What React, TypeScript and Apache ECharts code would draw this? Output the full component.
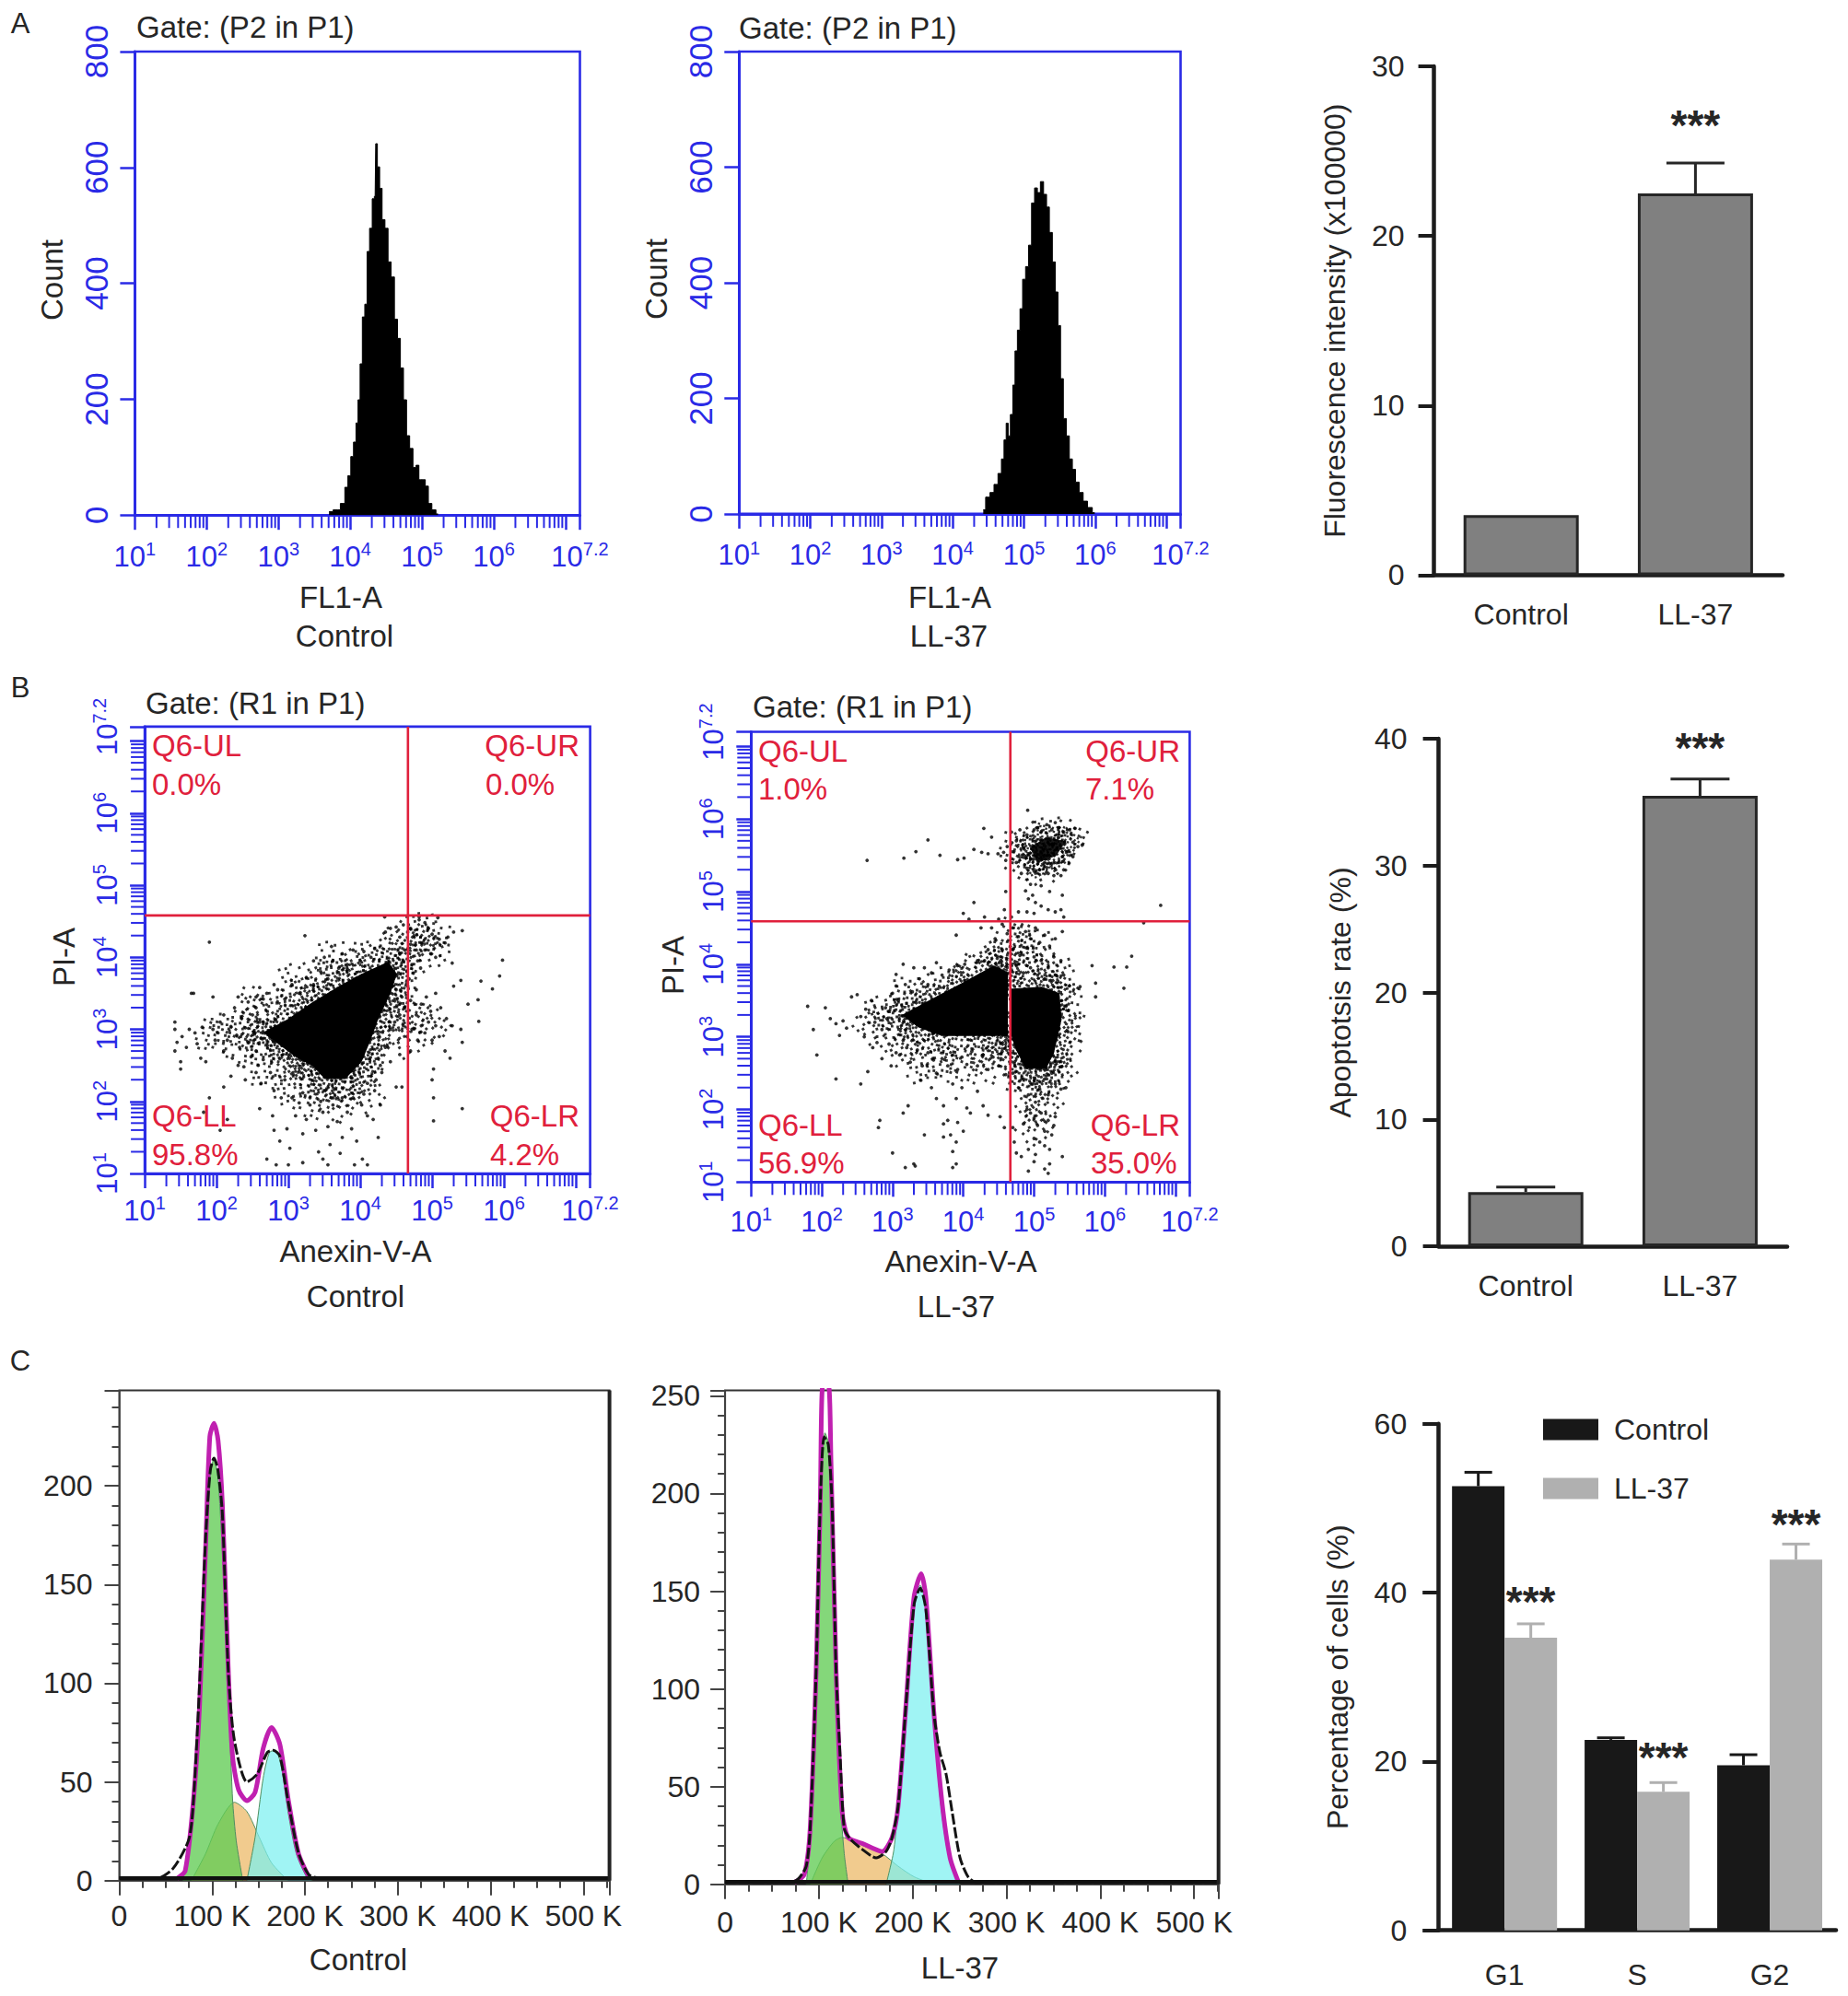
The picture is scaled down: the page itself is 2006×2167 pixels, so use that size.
import React, { useEffect, useRef } from "react";
import * as echarts from "echarts";

const FONT = "Liberation Sans";
const BLUE = "#2a2ae6";
const RED = "#e0203c";
const INK = "#262626";

/* ---------- Panel A: flow histograms (log10 of FL1-A, count) ---------- */
const histControl = [[3.705,6],[3.82,9],[3.905,20],[3.945,48],[3.99,68],[4.026,101],[4.066,126],[4.095,159],[4.123,199],[4.152,261],[4.186,342],[4.22,364],[4.25,455],[4.289,495],[4.324,546],[4.347,550],[4.364,641],[4.393,601],[4.427,564],[4.461,510],[4.507,495],[4.547,437],[4.593,411],[4.639,338],[4.679,305],[4.719,254],[4.765,199],[4.805,137],[4.851,115],[4.897,82],[4.937,86],[4.977,61],[5.023,61],[5.069,50],[5.109,20],[5.166,9],[5.223,2]];
const histLL37 = [[4.429,7],[4.496,29],[4.552,37],[4.608,51],[4.664,70],[4.704,95],[4.737,128],[4.765,157],[4.793,135],[4.827,172],[4.861,223],[4.889,282],[4.928,318],[4.962,355],[5.001,406],[5.046,428],[5.085,465],[5.13,538],[5.169,564],[5.209,556],[5.254,575],[5.298,553],[5.338,531],[5.377,487],[5.422,436],[5.461,384],[5.495,326],[5.534,234],[5.574,165],[5.618,135],[5.658,95],[5.703,77],[5.747,55],[5.804,37],[5.86,22],[5.927,11],[5.994,2]];
const logDecades = [1, 2, 3, 4, 5, 6];
const logMultipliers = [2, 3, 4, 5, 6, 7, 8, 9];

/* ---------- Bar panels ---------- */
const barCategories = ["Control", "LL-37"];
const fluorescence = [3.54, 22.5];
const fluorescenceErr = [3.54, 24.3];
const fluorescenceStar = 26.85;
const apoptosis = [4.27, 35.5];
const apoptosisErr = [4.67, 36.83];
const apoptosisStar = 39.74;
const phaseCategories = ["G1", "S", "G2"];
const phaseControl = [52.6, 22.56, 19.55];
const phaseControlErr = [54.25, 22.8, 20.8];
const phaseLL37 = [34.66, 16.4, 43.9];
const phaseLL37Err = [36.3, 17.5, 45.75];
const phaseLL37Star = [39.57, 21.1, 48.7];

/* ---------- Panel B: quadrant gates (log10 units) ---------- */
const gate1 = { x: 4.664, y: 4.58 };
const gate2 = { x: 4.665, y: 4.59 };

const coreControl = [[2.65,2.96],[2.99,3.14],[3.34,3.38],[3.74,3.62],[4.02,3.77],[4.39,3.94],[4.51,3.77],[4.42,3.5],[4.25,3.14],[4.14,2.84],[4.02,2.55],[3.79,2.31],[3.51,2.31],[3.34,2.49],[3.11,2.61],[2.88,2.78]];
const clumpsControl = [[2.15,3.0],[1.95,2.9],[2.4,3.0],[2.6,3.15],[2.6,2.85],[2.85,3.3],[2.85,2.7],[3.1,3.45],[3.1,2.5],[3.35,3.6],[3.3,2.3],[3.6,3.75],[3.55,2.15],[3.8,2.2],[3.85,3.85],[4.0,2.35],[4.1,4.0],[4.15,2.65],[4.3,2.9],[4.4,4.15],[4.4,3.2],[4.55,3.5],[4.6,3.9],[4.65,4.25],[4.85,4.2],[4.95,4.05],[4.85,4.4],[5.05,4.25],[4.75,3.2],[5.0,3.05],[4.65,2.85],[3.0,2.2],[2.7,2.4],[3.3,2.0],[3.7,1.95],[4.1,2.1],[3.1,3.7],[3.6,4.0],[4.55,3.2],[4.3,3.5],[3.0,2.9],[3.5,3.4],[3.9,3.6],[2.35,2.75],[2.5,3.35]];
const dotsControl = [
[1.42,3.1],[1.42,3.0],[1.45,2.82],[1.42,2.7],[1.5,2.55],[1.5,2.45],[1.52,2.9],[1.58,2.75],[1.62,3.0],[1.7,2.95],[1.73,2.8],[1.8,3.03],[1.78,2.6],[1.85,2.55],[1.95,3.0],[1.98,2.85],[2.02,2.95],[2.05,3.1],[2.1,2.7],[2.1,3.2],[2.15,2.85],[2.2,3.04],[2.22,2.6],[2.25,3.3],[2.28,2.92],[2.32,2.75],[2.35,3.15],[2.38,2.48],[2.4,3.02],[2.44,3.38],[2.45,2.82],[2.48,2.62],[2.5,3.2],[2.52,2.95],[2.55,3.3],[2.55,2.7],[2.58,2.5],[2.6,3.1],[2.62,2.88],[2.65,3.42],[2.65,2.58],[1.68,3.5],[1.95,3.45],
[4.35,4.35],[4.42,4.4],[4.5,4.42],[4.55,4.28],[4.6,4.45],[4.66,4.35],[4.7,4.4],[4.75,4.3],[4.82,4.52],[4.9,4.48],[4.95,4.4],[5.0,4.32],[5.08,4.55],[5.1,4.25],[5.18,4.2],[4.85,4.2],[4.78,4.1],[4.7,4.18],[4.62,4.1],[4.55,4.05],[4.9,4.1],[4.98,4.05],[5.05,4.0],[4.8,3.95],[4.72,3.9],[4.65,3.8],[4.6,3.95],[5.3,4.35],[5.42,4.37],[4.68,3.7],[4.74,3.78],[4.84,3.85],[5.22,4.28],[5.28,3.92],[5.4,3.68],[5.3,3.6],
[4.5,3.55],[4.58,3.45],[4.62,3.3],[4.55,3.2],[4.48,3.1],[4.42,3.0],[4.7,3.4],[4.78,3.55],[4.85,3.35],[4.92,3.45],[4.98,3.25],[5.05,3.5],[5.12,3.3],[5.2,3.15],[5.28,3.05],[5.05,3.05],[4.95,3.1],[4.85,3.05],[4.78,3.2],[4.72,3.0],[4.65,2.9],[4.6,3.05],[4.8,2.85],[4.9,2.95],[5.0,2.85],[5.1,2.9],[5.18,2.7],[5.25,2.6],[5.4,3.0],[5.42,2.82],[4.7,2.7],[4.55,2.65],[4.42,2.55],[4.35,2.75],[4.25,2.6],[4.3,2.4],[4.15,2.35],[4.2,2.15],[4.5,2.2],[4.58,2.2],[5.02,2.45],[5.0,2.3],[5.02,2.05],
[2.6,1.9],[2.78,1.8],[2.8,1.6],[2.88,1.45],[2.98,1.62],[3.02,1.35],[3.1,1.8],[3.2,1.55],[3.25,1.75],[3.3,1.95],[3.38,1.6],[3.42,1.3],[3.48,1.85],[3.55,1.65],[3.58,1.4],[3.62,1.95],[3.68,1.72],[3.75,1.5],[3.82,1.85],[3.88,1.62],[3.95,1.45],[4.02,1.95],[4.1,1.8],[4.18,1.75],[4.28,1.95],[3.2,1.15],[3.48,1.2],[3.55,1.12],[3.72,1.28],[2.7,1.2],[2.83,1.12],[3.0,1.12],[3.92,1.12],[4.1,1.12],[4.03,1.2],[4.25,1.5],
[2.4,2.3],[2.55,2.4],[2.62,2.25],[2.75,2.4],[2.8,2.15],[2.9,2.05],[2.95,2.3],[3.05,2.05],[3.15,1.98],[3.2,2.12],[3.3,2.05],[3.45,2.0],[3.6,2.05],[3.75,2.05],[3.9,2.05],[4.05,2.1],[4.1,2.25],[4.22,2.3],[4.28,2.5],[2.3,2.5],[2.2,2.35],[2.1,2.2],[1.9,2.05],[1.82,1.85],[2.15,1.75],[2.05,1.6],
[2.55,3.45],[2.7,3.5],[2.85,3.55],[2.95,3.42],[3.05,3.62],[3.15,3.5],[3.25,3.72],[3.35,3.62],[3.45,3.8],[3.55,3.7],[3.62,3.95],[3.7,3.85],[3.75,4.05],[3.82,3.9],[3.9,4.1],[4.0,3.95],[4.05,4.08],[4.15,4.0],[4.2,4.12],[3.5,4.0],[3.35,3.95],[3.6,4.15],[2.8,3.62],[3.23,4.3],[1.9,4.21],[1.65,3.5],[2.3,3.45],[2.6,3.58],
[5.98,3.96],[5.94,3.74],[5.84,3.56],[5.68,3.67],[5.5,3.35],[5.64,3.41],[5.65,3.11],[5.42,1.9],[5.02,1.73],[4.34,4.56],[4.82,4.56]
];

const coreLL37A = [[3.13,3.30],[3.53,3.51],[3.98,3.74],[4.43,3.98],[4.63,3.89],[4.63,3.01],[4.21,3.01],[3.70,3.01],[3.36,3.13]];
const coreLL37B = [[4.66,3.66],[5.11,3.69],[5.36,3.6],[5.39,3.24],[5.28,2.77],[5.17,2.56],[4.88,2.56],[4.74,2.83],[4.66,3.07]];
const coreLL37C = [[4.94,5.6],[5.17,5.75],[5.45,5.69],[5.31,5.49],[5.06,5.4]];
const clumpsLL37 = [[2.95,3.2],[3.2,3.4],[3.3,3.0],[3.5,3.6],[3.6,2.85],[3.8,3.75],[3.95,2.85],[4.1,3.9],[4.3,2.85],[4.35,4.05],[4.55,2.85],[4.6,4.1],[4.75,4.1],[4.95,3.9],[5.15,3.95],[5.35,3.85],[5.45,3.5],[5.48,3.15],[5.42,2.85],[5.35,2.55],[5.2,2.4],[5.0,2.4],[4.85,2.4],[4.75,2.65],[5.15,2.1],[5.0,2.0],[5.05,4.25],[4.85,4.3],[4.7,4.4],[5.0,1.75],[3.1,2.85],[3.4,2.6],[3.7,2.6],[4.05,2.6],[4.4,2.6],[2.7,3.15],[2.85,3.35],[3.2,3.6],[4.75,5.6],[4.85,5.4],[4.95,5.7],[5.1,5.5],[5.2,5.8],[5.35,5.6],[5.5,5.75],[5.25,5.4],[5.05,5.35]];
const dotsLL37 = [
[4.91,6.12],[4.29,5.87],[3.5,5.71],[3.33,5.55],[3.16,5.46],[2.64,5.43],[3.67,5.5],[3.92,5.44],[4.01,5.46],[4.15,5.58],[4.26,5.54],[4.35,5.52],[4.4,5.75],[4.49,5.52],[4.57,5.54],[4.6,5.43],
[4.68,5.82],[4.75,5.7],[4.8,5.85],[4.85,5.6],[4.9,5.78],[4.95,5.45],[5.0,5.85],[5.05,5.88],[5.1,5.82],[5.18,5.92],[5.25,5.85],[5.3,5.95],[5.35,5.88],[5.42,5.82],[5.5,5.85],[5.58,5.87],[5.55,5.68],[5.62,5.62],[5.68,5.64],[5.48,5.55],[5.4,5.48],[5.35,5.4],[5.25,5.38],[5.18,5.33],[5.08,5.3],[5.0,5.28],[4.9,5.32],[4.82,5.25],[4.75,5.4],[4.7,5.55],[4.68,5.45],[4.62,5.62],[5.55,5.48],[5.42,5.3],[5.38,5.22],[5.0,5.45],[4.86,5.5],[5.2,5.25],
[4.6,5.0],[4.88,5.01],[4.92,4.9],[4.98,4.95],[5.02,4.85],[4.95,5.1],[5.1,5.08],[5.22,5.0],[5.28,5.22],[5.4,4.95],[5.38,4.75],[5.42,4.65],[5.3,4.72],[5.2,4.75],[5.1,4.8],[5.0,4.7],[4.9,4.72],[4.78,4.72],[4.68,4.65],[4.58,4.75],[4.5,4.62],[4.15,4.85],[4.0,4.7],[4.08,4.62],[4.3,4.65],[6.79,4.81],[6.55,4.57],
[4.25,4.5],[4.4,4.5],[4.55,4.55],[4.62,4.42],[4.7,4.5],[4.78,4.38],[4.88,4.45],[4.95,4.35],[5.02,4.5],[5.08,4.3],[5.15,4.4],[5.22,4.25],[5.3,4.35],[5.4,4.45],[4.45,4.35],[4.55,4.2],[4.35,4.2],[4.2,4.05],[3.9,4.4],[4.3,4.05],[4.48,4.08],[4.7,4.2],[4.8,4.12],[4.9,4.22],[5.0,4.1],[5.1,4.05],[5.2,3.95],[5.28,4.1],[5.38,4.05],[5.42,3.85],[5.5,3.7],[4.68,3.9],[4.75,3.98],[4.85,3.88],[4.95,3.95],[5.05,3.85],[5.15,3.8],[5.3,3.85],
[5.82,3.98],[6.13,3.96],[6.31,3.96],[6.38,4.11],[5.87,3.74],[6.27,3.67],[5.87,3.55],[5.65,3.69],[5.45,3.42],[5.48,3.07],[5.39,2.59],
[1.8,3.42],[1.88,3.1],[2.05,3.4],[2.12,3.25],[2.2,3.18],[2.25,3.02],[2.3,3.22],[2.35,3.12],[2.42,3.55],[2.5,3.58],[2.55,3.28],[2.6,3.0],[2.62,3.38],[2.7,3.5],[2.75,3.2],[2.78,2.92],[2.85,3.1],[2.9,3.4],[2.92,3.25],[2.95,2.9],[3.0,3.6],[3.05,2.78],[3.08,3.5],[2.65,2.52],[2.2,2.42],[1.93,2.75],[2.55,2.35],[2.72,2.85],[2.85,2.7],[2.98,2.6],[3.05,3.7],[3.15,2.95],[3.18,3.72],[3.28,3.62],[3.38,3.8],[3.5,3.72],[3.55,3.88],[3.7,3.85],[3.8,3.92],[3.92,3.98],[4.02,4.0],[3.15,4.0],[3.3,3.95],[3.45,3.95],[3.62,4.02],[3.05,3.86],
[3.1,2.75],[3.2,2.85],[3.25,2.65],[3.35,2.82],[3.42,2.6],[3.5,2.78],[3.58,2.68],[3.62,2.5],[3.7,2.7],[3.78,2.6],[3.85,2.75],[3.92,2.55],[3.98,2.72],[4.05,2.62],[4.12,2.8],[4.2,2.6],[4.28,2.75],[4.35,2.55],[4.42,2.72],[4.5,2.6],[4.55,2.8],[4.6,2.48],[3.4,2.4],[3.55,2.3],[3.62,2.15],[3.72,2.05],[3.78,1.85],[3.85,2.35],[3.9,2.15],[3.98,2.3],[4.05,2.02],[4.1,1.95],[4.2,2.25],[4.28,2.05],[4.35,1.92],[4.52,1.9],[4.58,1.75],[3.72,1.8],[3.72,1.62],[3.82,1.65],[3.9,1.55],[4.0,1.7],[3.92,1.82],[3.15,1.95],[3.22,2.05],[2.82,1.85],[2.8,1.75],[3.45,1.65],[3.3,1.25],[3.0,1.4],[3.18,1.2],[3.32,1.22],[3.85,1.42],[3.85,1.2],
[4.7,2.5],[4.78,2.3],[4.85,2.42],[4.92,2.2],[4.98,2.35],[5.02,2.1],[5.08,2.28],[5.15,2.42],[5.2,2.2],[5.25,2.5],[5.3,2.35],[5.38,2.28],[5.45,2.3],[4.9,2.0],[4.95,1.95],[5.0,1.88],[5.05,1.78],[5.1,1.95],[5.15,1.7],[5.2,1.85],[5.25,1.65],[5.3,1.9],[5.28,1.78],[4.85,1.8],[5.0,1.6],[5.08,1.55],[5.15,1.5],[5.22,1.45],[4.82,1.35],[4.72,1.55],[4.7,1.75],[4.75,1.4],[4.92,1.45],[5.02,1.38],[5.4,1.35],[5.15,1.18],[5.22,1.25],[5.0,1.28],[4.92,1.15],[5.2,1.12],[3.9,1.25]
];

/* ---------- Panel C: cell-cycle fits (x in K, y count) ---------- */
const c1Black = [[0,1.5],[40,1],[58,6.2],[75,21],[80,41.4],[86,94.7],[93,173.6],[98,207.7],[102,214],[106,208.6],[111,186],[117.5,105],[124,71],[137.5,50],[148.5,54],[159.6,65],[166,66],[173,63],[182,39.7],[193,14],[204,3],[213,1.5],[528,1.5]];
const c1Magenta = [[62,1],[71,5],[80,41.4],[86.4,88],[93,169],[97.5,225],[102,231.7],[106.4,223],[111,191],[117.5,105.6],[122,63],[128.5,46],[137.4,40.5],[146.3,44.8],[155,67],[164,77.6],[173,68.9],[182,41],[193,13.7],[204,2]];
const c1Green = [[68.7,0],[80,41.4],[88.7,105],[93,159],[97.5,203.5],[102,214],[106.4,203.5],[113,148],[117.5,95],[122,41.4],[126,20],[133,0]];
const c1Orange = [[77.6,0],[93,13.7],[106.4,28.6],[124,39.7],[137.4,35],[150.7,22],[164,9],[181.7,0]];
const c1Cyan = [[137.4,0],[146.3,22],[155,52],[161.8,65],[168.4,66],[175,56.5],[181.7,35],[190.6,13.7],[201.7,1.9],[208.3,0]];
const c2Black = [[0,1],[69.4,1],[78,2.8],[86.5,9.3],[90.7,28.7],[97,108.4],[101.4,194.6],[105.6,229],[110,225],[114,195],[118.4,108.4],[122.7,65],[127,28.7],[133.3,23.3],[146,18],[161,13.6],[171.6,16.8],[178,24],[184.4,39.7],[193,93],[201.4,143],[208,151.6],[214,140.8],[222.7,87],[229,67.6],[235.5,56.6],[242,37.2],[250.4,13.6],[259,3.9],[267.5,1],[526,1]];
const c2Magenta = [[73.7,1],[84.3,5],[90.7,28.7],[97,108.4],[101.4,194.6],[104.3,256],[110,256],[112.9,216],[118.4,108.4],[124.8,37.2],[131.2,24],[146,21],[167.4,16.8],[178,24],[184.4,39.7],[193,93],[201.4,147],[209,159],[214,147],[222.7,87],[231.3,41.6],[239.8,13.6],[248.3,1.7]];
const c2Green = [[86.5,0],[91.6,28.7],[97,108.4],[102.2,205],[106.5,231],[110,226],[114,183],[118.4,108],[122.7,43.7],[127,15.7],[131.2,0]];
const c2Orange = [[90.7,0],[103.5,13.6],[116.3,22],[124.8,24],[146,20],[167.4,15.7],[184.4,9.3],[201.4,3.9],[222.7,0]];
const c2Cyan = [[171.6,0],[180,18],[188.7,65.7],[195,108],[201.4,147],[208,153],[214,142],[220.6,97],[229,45.3],[237.6,15.9],[250.4,0]];

/* Stippled markers: one clump stands for a small knot of cytometer events. */
const clumpSpots = [[0,6],[6,22],[10,0],[12,12],[14,33],[19,6],[21,20],[24,37],[28,12],[30,27],[35,3],[37,18],[4,36],[16,26],[33,34],[8,16],[25,4],[2,14],[18,13],[34,11]];
const denseSpots = [...clumpSpots, [5,9],[9,27],[15,3],[16,19],[23,9],[25,16],[25,30],[29,21],[32,6],[35,24],[7,32],[19,31],[29,35],[38,30],[12,7],[3,28],[21,26],[31,15]];
const spotsPath = (spots: number[][]) => "path://" + spots.map(([x, y]) => `M${x} ${y}h3.2v3.2h-3.2z`).join("");

/* ---------- Helpers ---------- */
const font = (size: number, color = INK) => ({ fontFamily: FONT, fontSize: size, color });

const logLabel = {
  formatter: (v: number) => {
    const e = Math.round(v * 10) / 10;
    return e === 7 ? "" : `{b|10}{s|${e}}`;
  },
  hideOverlap: false,
  showMaxLabel: true,
  showMinLabel: true,
  rich: {
    b: { fontFamily: FONT, fontSize: 31, color: BLUE, lineHeight: 36, verticalAlign: "middle" },
    s: { fontFamily: FONT, fontSize: 20, color: BLUE, lineHeight: 36, verticalAlign: "top" },
  },
};

const logAxis = (gridIndex: number, margin: number, rotate = 0) => ({
  type: "value", gridIndex, min: 1, max: 7.2, interval: 1,
  splitLine: { show: false },
  axisLine: { lineStyle: { color: BLUE, width: 3 } },
  axisTick: { length: 16, lineStyle: { color: BLUE, width: 2.5 } },
  axisLabel: { ...logLabel, margin, rotate },
});

const logMinor = logDecades.flatMap((d) => logMultipliers.map((m) => [d + Math.log10(m)]));

const minorTicks = (idx: number, dir: "x" | "y") => ({
  type: "custom", xAxisIndex: idx, yAxisIndex: idx, silent: true, z: 1,
  clip: false,
  data: logMinor,
  encode: dir === "x" ? { x: 0 } : { y: 0 },
  renderItem: (_: any, api: any) => {
    const v = api.value(0);
    if (dir === "x") {
      const p = api.coord([v, idx < 3 ? 0 : 1]);
      return { type: "line", shape: { x1: p[0], y1: p[1], x2: p[0], y2: p[1] + 14 }, style: { stroke: BLUE, lineWidth: 2 } };
    }
    const p = api.coord([1, v]);
    return { type: "line", shape: { x1: p[0], y1: p[1], x2: p[0] - 15, y2: p[1] }, style: { stroke: BLUE, lineWidth: 2 } };
  },
});

const histSeries = (idx: number, data: number[][]) => ({
  type: "line", xAxisIndex: idx, yAxisIndex: idx, data, step: "middle", showSymbol: false,
  lineStyle: { color: "#000", width: 1 }, areaStyle: { color: "#000", opacity: 1 }, z: 3,
});

const flowAxisY = (gridIndex: number) => ({
  type: "value", gridIndex, min: 0, max: 800, interval: 200,
  splitLine: { show: false },
  axisLine: { lineStyle: { color: BLUE, width: 3 } },
  axisTick: { length: 16, lineStyle: { color: BLUE, width: 2.5 } },
  axisLabel: { ...font(35, BLUE), rotate: 90, margin: 24 },
});

const polygon = (idx: number, pts: number[][], fill: string, opacity: number, z: number) => ({
  type: "custom", xAxisIndex: idx, yAxisIndex: idx, silent: true, z,
  data: pts, encode: { x: 0, y: 1 },
  renderItem: (p: any, api: any) =>
    p.dataIndex === 0
      ? { type: "polygon", shape: { points: pts.map((q) => api.coord(q)) }, style: { fill, opacity } }
      : null,
});

const scatterDots = (idx: number, data: number[][]) => ({
  type: "scatter", xAxisIndex: idx, yAxisIndex: idx, data, symbolSize: 3.8,
  itemStyle: { color: "#000" }, z: 3, silent: true,
});

const scatterClumps = (idx: number, data: number[][], spots: number[][], size: number) => ({
  type: "scatter", xAxisIndex: idx, yAxisIndex: idx, data, symbol: spotsPath(spots), symbolSize: size,
  symbolRotate: (_: any, p: any) => (p.dataIndex * 73) % 360,
  itemStyle: { color: "#000" }, z: 3, silent: true,
});

const gateLines = (idx: number, gate: { x: number; y: number }) =>
  [
    [[gate.x, 1], [gate.x, 7.2]],
    [[1, gate.y], [7.2, gate.y]],
  ].map((data) => ({
    type: "line", xAxisIndex: idx, yAxisIndex: idx, data, showSymbol: false, silent: true, z: 5,
    lineStyle: { color: RED, width: 2.6 },
  }));

const prismX = (gridIndex: number, data: string[], margin: number) => ({
  type: "category", gridIndex, data, boundaryGap: true,
  axisLine: { lineStyle: { color: "#1c1c1c", width: 4.5 } },
  axisTick: { alignWithLabel: true, length: 17, lineStyle: { color: "#1c1c1c", width: 4.5 } },
  axisLabel: { ...font(32), margin },
});

const prismY = (gridIndex: number, max: number, interval: number, name: string, nameGap: number, margin: number) => ({
  type: "value", gridIndex, min: 0, max, interval, name, nameLocation: "middle", nameGap,
  nameTextStyle: font(32),
  splitLine: { show: false },
  axisLine: { show: true, lineStyle: { color: "#1c1c1c", width: 4.5 } },
  axisTick: { show: true, length: 17, lineStyle: { color: "#1c1c1c", width: 4 } },
  axisLabel: { ...font(32), margin },
});

const errorSeries = (
  idx: number, values: number[], tops: number[], stars: (number | null)[],
  offset: number, capHalf: number, color: string, starSize: number,
) => ({
  type: "custom", xAxisIndex: idx, yAxisIndex: idx, silent: true, z: 4, clip: false,
  data: values.map((v, i) => [i, v, tops[i], stars[i] ?? -1]),
  encode: { x: 0, y: [1, 2] },
  renderItem: (_: any, api: any) => {
    const i = api.value(0);
    const a = api.coord([i, api.value(1)]);
    const b = api.coord([i, api.value(2)]);
    const x = a[0] + offset;
    const kids: any[] = [];
    if (api.value(2) > api.value(1)) {
      kids.push(
        { type: "line", shape: { x1: x, y1: a[1], x2: x, y2: b[1] }, style: { stroke: color, lineWidth: 3 } },
        { type: "line", shape: { x1: x - capHalf, y1: b[1], x2: x + capHalf, y2: b[1] }, style: { stroke: color, lineWidth: 3 } },
      );
    }
    const starValue = api.value(3);
    if (starValue > 0) {
      const s = api.coord([i, starValue]);
      kids.push({
        type: "text",
        style: {
          text: "***", x, y: s[1] + starSize * 0.13, fill: INK, font: `bold ${starSize}px "${FONT}"`,
          textAlign: "center", textVerticalAlign: "middle", align: "center", verticalAlign: "middle",
        },
      });
    }
    return { type: "group", children: kids };
  },
});

const cycleX = (gridIndex: number, max: number, margin: number) => ({
  type: "value", gridIndex, min: 0, max, interval: 100,
  splitLine: { show: false },
  axisLine: { lineStyle: { color: "#444", width: 1.5 } },
  axisTick: { length: 16, lineStyle: { color: "#444", width: 2 } },
  minorTick: { show: true, splitNumber: 4, length: 8, lineStyle: { color: "#444", width: 2 } },
  axisLabel: {
    ...font(32), margin, hideOverlap: false,
    formatter: (v: number) => (v === 0 ? "0" : v % 100 === 0 ? `${v} K` : ""),
  },
});

const cycleY = (gridIndex: number, max: number, margin: number) => ({
  type: "value", gridIndex, min: 0, max, interval: 50,
  splitLine: { show: false },
  axisLine: { show: true, lineStyle: { color: "#444", width: 1.5 } },
  axisTick: { show: true, length: 16, lineStyle: { color: "#444", width: 2 } },
  minorTick: { show: true, splitNumber: 5, length: 8, lineStyle: { color: "#444", width: 2 } },
  axisLabel: {
    ...font(32), margin, hideOverlap: false,
    formatter: (v: number) => (v % 50 === 0 ? String(v) : ""),
  },
});

const cycleArea = (idx: number, data: number[][], color: string, opacity: number, z: number) => ({
  type: "line", xAxisIndex: idx, yAxisIndex: idx, data, showSymbol: false, smooth: 0.25, silent: true, z,
  lineStyle: { color: "#4f8f60", width: 1 }, areaStyle: { color, opacity },
});

const cycleLines = (idx: number, xMax: number, yMax: number, black: number[][], magenta: number[][]) => [
  { type: "line", xAxisIndex: idx, yAxisIndex: idx, data: magenta, showSymbol: false, smooth: 0.25, silent: true, z: 5, lineStyle: { color: "#c020b0", width: 5 } },
  { type: "line", xAxisIndex: idx, yAxisIndex: idx, data: black, showSymbol: false, smooth: 0.25, silent: true, z: 6, lineStyle: { color: "#141414", width: 3, type: [12, 3] } },
  { type: "line", xAxisIndex: idx, yAxisIndex: idx, data: [[0, 1.2], [xMax, 1.2]], showSymbol: false, silent: true, z: 6, lineStyle: { color: "#101010", width: 4.5 } },
  { type: "line", xAxisIndex: idx, yAxisIndex: idx, data: [[xMax, 0], [xMax, yMax]], showSymbol: false, silent: true, z: 6, lineStyle: { color: "#222", width: 4 } },
];

/* ---------- Free text ---------- */
const label = (text: string, x: number, y: number, opts: any = {}) => ({
  type: "text", x, y, rotation: opts.rot ? Math.PI / 2 : 0, z: 20,
  style: {
    text, fill: opts.fill ?? INK, font: `${opts.size ?? 33}px "${FONT}"`,
    align: opts.align ?? "left", verticalAlign: "middle",
    textAlign: opts.align ?? "left", textVerticalAlign: "middle",
  },
});

const texts = [
  label("A", 22, 25, { align: "center", size: 31 }),
  label("B", 22, 746, { align: "center", size: 31 }),
  label("C", 22, 1477, { align: "center", size: 31 }),
  label("Gate: (P2 in P1)", 148, 29.5),
  label("Gate: (P2 in P1)", 802, 30.5),
  label("Count", 56, 304, { align: "center", rot: true }),
  label("Count", 712, 303, { align: "center", rot: true }),
  label("FL1-A", 370, 648, { align: "center" }),
  label("Control", 374, 690, { align: "center" }),
  label("FL1-A", 1031, 648, { align: "center" }),
  label("LL-37", 1030, 690, { align: "center" }),
  label("Gate: (R1 in P1)", 158, 763),
  label("Gate: (R1 in P1)", 817, 767),
  label("PI-A", 69, 1039, { align: "center", rot: true }),
  label("PI-A", 730, 1048, { align: "center", rot: true }),
  label("Anexin-V-A", 386, 1358, { align: "center" }),
  label("Control", 386, 1407, { align: "center" }),
  label("Anexin-V-A", 1043, 1369, { align: "center" }),
  label("LL-37", 1038, 1418, { align: "center" }),
  label("Control", 389, 2127, { align: "center" }),
  label("LL-37", 1042, 2136, { align: "center" }),
  label("Q6-UL", 165, 809, { fill: RED }),
  label("0.0%", 165, 851, { fill: RED }),
  label("Q6-UR", 629, 809, { fill: RED, align: "right" }),
  label("0.0%", 527, 851, { fill: RED }),
  label("Q6-LL", 165, 1211, { fill: RED }),
  label("95.8%", 165, 1253, { fill: RED }),
  label("Q6-LR", 629, 1211, { fill: RED, align: "right" }),
  label("4.2%", 532, 1253, { fill: RED }),
  label("Q6-UL", 823, 815, { fill: RED }),
  label("1.0%", 823, 856, { fill: RED }),
  label("Q6-UR", 1281, 815, { fill: RED, align: "right" }),
  label("7.1%", 1178, 856, { fill: RED }),
  label("Q6-LL", 823, 1221, { fill: RED }),
  label("56.9%", 823, 1262, { fill: RED }),
  label("Q6-LR", 1281, 1221, { fill: RED, align: "right" }),
  label("35.0%", 1184, 1262, { fill: RED }),
];

const blueBox = { show: true, borderColor: BLUE, borderWidth: 2.6, backgroundColor: "transparent" };
const darkBox = { show: true, borderColor: "#333", borderWidth: 2, backgroundColor: "transparent" };

const option: any = {
  animation: false,
  backgroundColor: "#fff",
  textStyle: { fontFamily: FONT },
  grid: [
    { left: 146.4, top: 56, width: 483.1, height: 503.2, ...blueBox },
    { left: 802.3, top: 56, width: 479.2, height: 501.9, ...blueBox },
    { left: 1556.6, top: 72, width: 378.4, height: 552.4 },
    { left: 157.1, top: 788.9, width: 483.5, height: 485.1, ...blueBox },
    { left: 815.3, top: 794.5, width: 476.1, height: 488.8, ...blueBox },
    { left: 1561.6, top: 802, width: 378.4, height: 551 },
    { left: 129.5, top: 1509.4, width: 532.1, height: 532.3, ...darkBox },
    { left: 787.1, top: 1509.4, width: 535.6, height: 536.4, ...darkBox },
    { left: 1561.2, top: 1545.7, width: 431.8, height: 550 },
  ],
  xAxis: [
    logAxis(0, 27),
    logAxis(1, 27),
    prismX(2, barCategories, 27),
    logAxis(3, 22),
    logAxis(4, 25),
    prismX(5, barCategories, 27),
    cycleX(6, 528, 22),
    cycleX(7, 526, 25),
    prismX(8, phaseCategories, 32),
  ],
  yAxis: [
    flowAxisY(0),
    flowAxisY(1),
    prismY(2, 30, 10, "Fluorescence intensity (x100000)", 92, 32),
    logAxis(3, 23, 90),
    logAxis(4, 23, 90),
    prismY(5, 40, 10, "Apoptotsis rate (%)", 91, 34),
    cycleY(6, 248.4, 29),
    cycleY(7, 252.8, 27),
    prismY(8, 60, 20, "Percentage of cells (%)", 93, 34),
  ],
  legend: {
    data: ["Control", "LL-37"],
    orient: "vertical", left: 1670, top: 1531,
    itemWidth: 60, itemHeight: 23, itemGap: 32,
    icon: "rect", selectedMode: false,
    textStyle: { ...font(32), padding: [0, 0, 0, 12] },
  },
  series: [
    minorTicks(0, "x"), histSeries(0, histControl),
    minorTicks(1, "x"), histSeries(1, histLL37),
    {
      name: "Fluorescence intensity", type: "bar", xAxisIndex: 2, yAxisIndex: 2, data: fluorescence, barWidth: 125,
      itemStyle: { color: "#808080", borderColor: "#262626", borderWidth: 3 },
    },
    errorSeries(2, fluorescence, fluorescenceErr, [null, fluorescenceStar], 0, 31.5, "#262626", 46),

    minorTicks(3, "x"), minorTicks(3, "y"),
    polygon(3, coreControl, "#000", 1, 2), scatterClumps(3, clumpsControl, clumpSpots, 36), scatterClumps(3, coreControl, denseSpots, 36), scatterDots(3, dotsControl),
    ...gateLines(3, gate1),
    minorTicks(4, "x"), minorTicks(4, "y"),
    polygon(4, coreLL37A, "#000", 1, 2), polygon(4, coreLL37B, "#000", 1, 2), polygon(4, coreLL37C, "#000", 0.9, 2),
    scatterClumps(4, clumpsLL37, clumpSpots, 36), scatterClumps(4, coreLL37A, denseSpots, 36), scatterClumps(4, coreLL37B, denseSpots, 36), scatterClumps(4, coreLL37C, denseSpots, 30), scatterDots(4, dotsLL37),
    ...gateLines(4, gate2),
    {
      name: "Apoptosis rate", type: "bar", xAxisIndex: 5, yAxisIndex: 5, data: apoptosis, barWidth: 125,
      itemStyle: { color: "#808080", borderColor: "#262626", borderWidth: 3 },
    },
    errorSeries(5, apoptosis, apoptosisErr, [null, apoptosisStar], 0, 32, "#262626", 46),

    cycleArea(6, c1Orange, "#eec27a", 0.85, 2), cycleArea(6, c1Green, "#62cc55", 0.78, 3), cycleArea(6, c1Cyan, "#7cf0f0", 0.72, 4),
    ...cycleLines(6, 528, 248.4, c1Black, c1Magenta),
    cycleArea(7, c2Orange, "#eec27a", 0.85, 2), cycleArea(7, c2Green, "#62cc55", 0.78, 3), cycleArea(7, c2Cyan, "#7cf0f0", 0.72, 4),
    ...cycleLines(7, 526, 252.8, c2Black, c2Magenta),

    { name: "Control", type: "bar", xAxisIndex: 8, yAxisIndex: 8, data: phaseControl, barWidth: 57, barGap: 0, itemStyle: { color: "#181818" } },
    { name: "LL-37", type: "bar", xAxisIndex: 8, yAxisIndex: 8, data: phaseLL37, barWidth: 57, barGap: 0, itemStyle: { color: "#b0b0b0" } },
    errorSeries(8, phaseControl, phaseControlErr, [null, null, null], -28.5, 15, "#181818", 46),
    errorSeries(8, phaseLL37, phaseLL37Err, phaseLL37Star, 28.5, 15, "#b0b0b0", 46),
  ],
  graphic: { elements: texts },
};

export default function App() {
  const ref = useRef<HTMLDivElement>(null);
  useEffect(() => {
    document.body.style.margin = "0";
    const chart = echarts.init(ref.current!, undefined, { renderer: "svg" });
    chart.setOption(option);
    return () => chart.dispose();
  }, []);
  return <div ref={ref} style={{ position: "absolute", left: 0, top: 0, width: 2006, height: 2167 }} />;
}
